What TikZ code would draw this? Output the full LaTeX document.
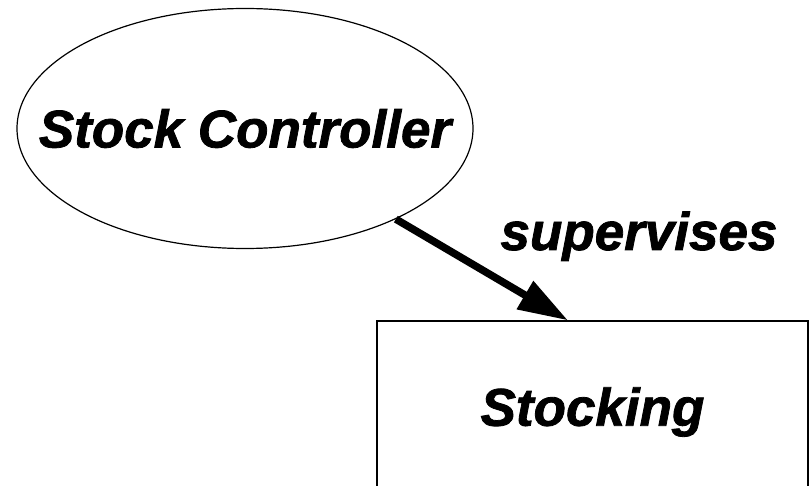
\documentclass[tikz,border=0pt]{standalone}
\usepackage{fontspec}
\setmainfont{Liberation Sans}[BoldItalicFeatures={FakeBold=1.5}]
\usetikzlibrary{shapes.geometric,arrows.meta}
\begin{document}
\begin{tikzpicture}[x=1pt,y=1pt,
  every node/.style={font=\fontsize{53}{60}\selectfont\bfseries\itshape, inner sep=0pt},
  actor/.style={draw, ellipse, line width=1.2pt, minimum width=456pt, minimum height=240pt},
  procbox/.style={draw, rectangle, line width=1.2pt, minimum width=431pt, minimum height=182pt},
  rel/.style={line width=7.5pt, -{Triangle[length=50pt,width=31pt]}}]
\useasboundingbox (0,0) rectangle (809,-486);
\clip (0,0) rectangle (809,-486);
\node[actor] (sc) at (245,-128.5) {\makebox[0pt]{\raisebox{-3.5pt}{Stock Controller}}};
\node[procbox] (st) at (592.5,-412) {Stocking};
\draw[rel] (sc.-31.7) -- ([xshift=-24.5pt]st.north);
\node[anchor=base] (lbl) at (639,-250) {supervises};
\end{tikzpicture}
\end{document}
